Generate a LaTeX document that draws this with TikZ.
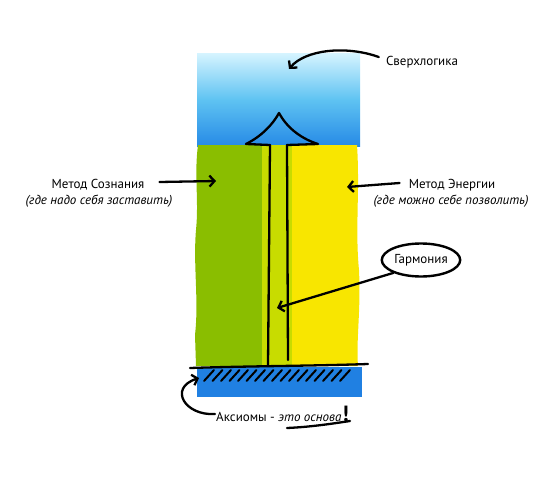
\documentclass[tikz,border=0pt]{standalone}
\usepackage{fontspec}
\setmainfont{PT Sans}
\usetikzlibrary{shapes.geometric, arrows.meta}

\definecolor{skytop}{RGB}{214,244,255}
\definecolor{skymid}{RGB}{95,195,242}
\definecolor{skybot}{RGB}{38,138,230}
\definecolor{conscgreen}{RGB}{138,190,0}
\definecolor{harmgreen}{RGB}{200,220,0}
\definecolor{energyyellow}{RGB}{248,230,0}
\definecolor{axiomblue}{RGB}{32,128,226}

\tikzset{
  pen/.style={line width=2.3pt, line cap=round, line join=round},
  pointer/.style={pen, -{Straight Barb[length=5pt, width=11pt, line width=2.3pt]}},
  label/.style={font=\fontsize{13}{15}\selectfont, inner sep=1pt},
  sublabel/.style={font=\fontsize{13}{15}\selectfont\itshape, inner sep=1pt},
}

\begin{document}
\begin{tikzpicture}[x=1pt, y=-1pt]

  \useasboundingbox (0,0) rectangle (550,482);

  % Sky block
  \shade[top color=skytop, bottom color=skybot, middle color=skymid]
    (197,53) rectangle (360,146);

  % Columns
  \fill[conscgreen] (262,145) -- (198,145) .. controls (194,175) and (199,200) .. (196,230)
    .. controls (193,265) and (199,300) .. (195,335) -- (196,366) -- (262,366) -- cycle;
  \fill[harmgreen] (262,145) rectangle (292,366);
  \fill[energyyellow] (292,145) -- (357,145) .. controls (360,190) and (355,230) .. (359,270)
    .. controls (361,310) and (356,340) .. (358,366) -- (292,366) -- cycle;

  % Foundation
  \fill[axiomblue] (197,367) rectangle (362,397);
  \draw[pen] (190,368) .. controls (250,366) and (310,366) .. (368,364);
  \foreach \x in {214,222.5,...,350}
    \draw[pen, line width=2pt] (\x,370) -- (\x-10,381);

  % Arrow up
  \coordinate (shaftL) at (270,145);
  \coordinate (shaftR) at (287,145);
  \coordinate (peak) at (279,113);
  \draw[pen] (268,366) -- (shaftL);
  \draw[pen] (288,360) -- (shaftR);
  \draw[pen] (shaftL) -- (246,144) .. controls (262,136) and (273,124) .. (peak)
    .. controls (286,126) and (299,138) .. (318,144) -- (shaftR);

  % Labels
  \node[label] (super) at (422,62) {Сверхлогика};
  \node[label] (consc) at (98,185) {Метод Сознания};
  \node[sublabel] (conscsub) at (99,201) {(где надо себя заставить)};
  \node[label] (energy) at (452,185) {Метод Энергии};
  \node[sublabel] (energysub) at (451,201) {(где можно себе позволить)};
  \node[label, ellipse, draw, line width=2.4pt, minimum width=77pt, minimum height=33pt]
    (harm) at (421,260) {Гармония};
  \node[label, anchor=west] (axiom) at (215,414)
    {Аксиомы - \textit{это основа}\hspace{1pt}{\fontsize{22}{22}\selectfont\bfseries !}};

  % Targets
  \coordinate (superT) at (289,69);
  \coordinate (conscT) at (216,181);
  \coordinate (energyT) at (347,187);
  \coordinate (harmT) at (277,308);
  \coordinate (axiomT) at (199,378);

  % Pointers
  \draw[pointer] (super.west) ++(-6,-5) .. controls (345,45) and (305,50) .. (superT);
  \draw[pointer] (consc.east) ++(14,-3) -- (conscT);
  \draw[pointer] (energy.west) ++(-8,-2) -- (energyT);
  \draw[pointer] (harm.205) -- (harmT);
  \draw[pointer] (axiom.west) .. controls (185,416) and (168,388) .. (axiomT);
  \draw[pen] (287,428) .. controls (310,427) and (330,424) .. (350,421);

\end{tikzpicture}
\end{document}
